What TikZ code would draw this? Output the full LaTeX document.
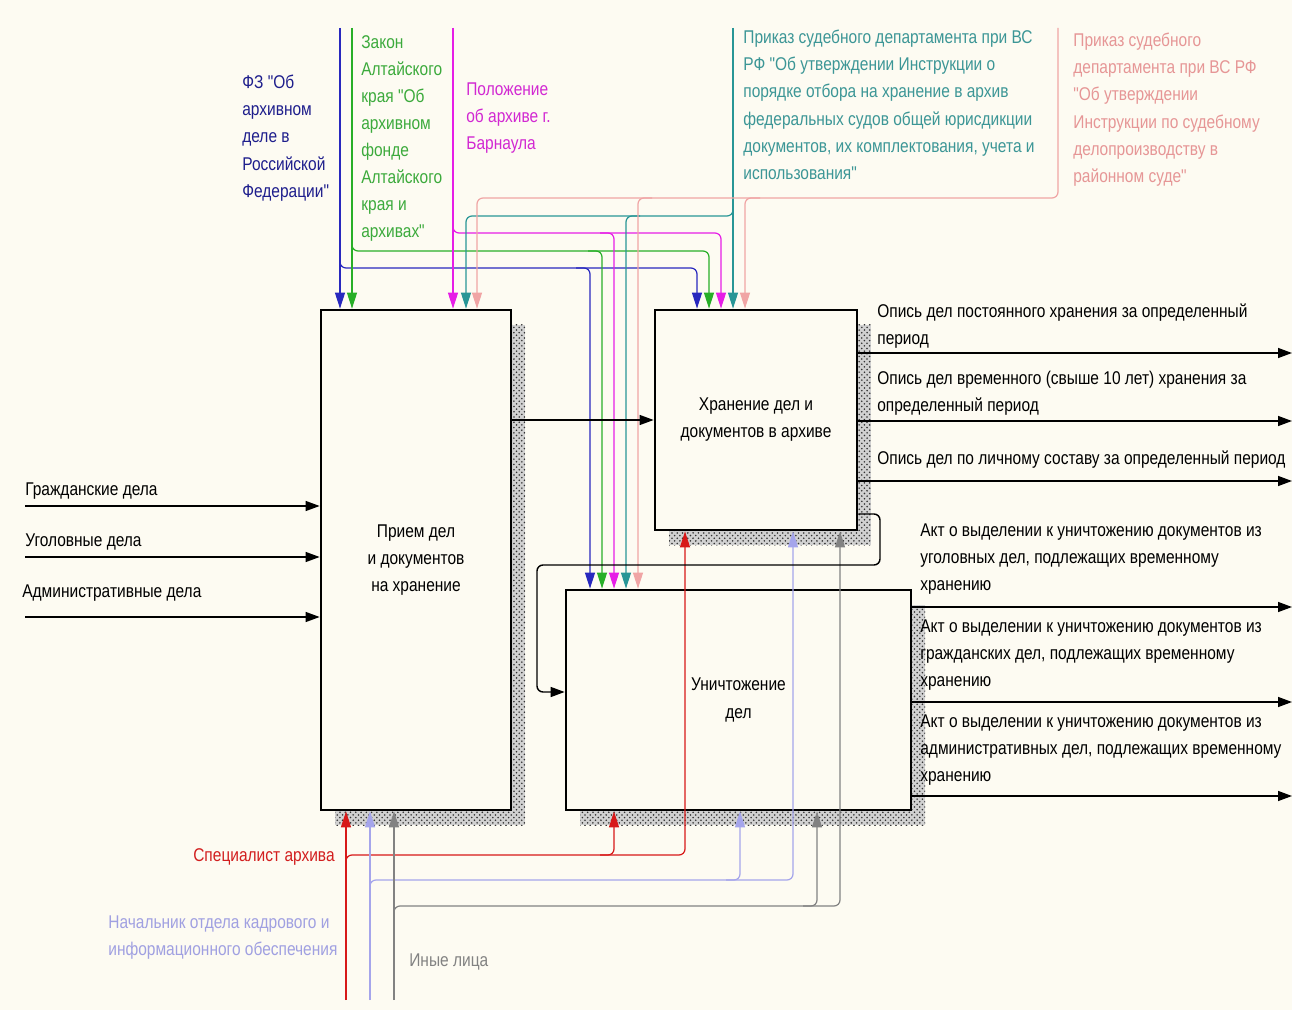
\documentclass[tikz,border=0pt]{standalone}
\usepackage{fontspec}
\newfontfamily\idef{Liberation Sans}[FakeStretch=0.84]
\usetikzlibrary{arrows.meta,patterns}
\definecolor{paper}{RGB}{253,251,242}
\definecolor{cblue}{RGB}{40,40,190}
\definecolor{tblue}{RGB}{30,30,140}
\definecolor{cgreen}{RGB}{40,175,40}
\definecolor{tgreen}{RGB}{60,170,60}
\definecolor{cmag}{RGB}{230,30,230}
\definecolor{tmag}{RGB}{210,40,210}
\definecolor{cteal}{RGB}{40,150,150}
\definecolor{tteal}{RGB}{60,150,150}
\definecolor{cpink}{RGB}{240,165,165}
\definecolor{tpink}{RGB}{230,150,150}
\definecolor{cred}{RGB}{215,25,25}
\definecolor{tred}{RGB}{210,30,30}
\definecolor{clav}{RGB}{165,165,235}
\definecolor{tlav}{RGB}{160,160,225}
\definecolor{cgrey}{RGB}{130,130,130}
\begin{document}
\begin{tikzpicture}[x=0.02cm, y=-0.02cm,
    font=\idef\fontsize{10.5}{15.4}\selectfont,
    fbox/.style={draw, line width=1.6pt, fill=paper, inner sep=0pt, align=center},
    shade/.style={pattern=crosshatch dots, pattern color=black!80},
    lbl/.style={inner sep=0pt, align=left, anchor=north west},
    flow/.style={line width=0.8pt, rounded corners=0.12cm, -{Triangle[length=0.28cm, width=0.2cm]}},
    cin/.style={draw=#1, line width=0.7pt, rounded corners=0.12cm, -{Triangle[length=0.32cm, width=0.2cm, color=#1]}}]
  % sheet and box shadows
  \useasboundingbox (0,0) rectangle (1292,1010);
  \fill[paper] (0,0) rectangle (1292,1010);
  \fill[black!18] (335,325) rectangle (525,825);
  \fill[shade] (335,325) rectangle (525,825);
  \fill[black!18] (669,325) rectangle (871,545);
  \fill[shade] (669,325) rectangle (871,545);
  \fill[black!18] (580,605) rectangle (925,825);
  \fill[shade] (580,605) rectangle (925,825);
  % activity boxes
  \node[fbox, minimum width=3.8cm, minimum height=10cm] (recv) at (416,560) {Прием дел\\и документов\\на хранение};
  \node[fbox, minimum width=4.04cm, minimum height=4.4cm] (store) at (756,420) {Хранение дел и\\документов в архиве};
  \node[fbox, minimum width=6.9cm, minimum height=4.4cm] (destroy) at (738.5,700) {Уничтожение\\дел};
  % free ends
  \coordinate (fzin) at (340,28);
  \coordinate (zakin) at (352,28);
  \coordinate (polin) at (453,28);
  \coordinate (sdin) at (733,28);
  \coordinate (vsin) at (1058,28);
  \coordinate (spin) at (346,1000);
  \coordinate (nachin) at (370,1000);
  \coordinate (inin) at (394,1000);
  \coordinate (grin) at (25,506);
  \coordinate (ugin) at (25,557);
  \coordinate (admin) at (25,617);
  \foreach \n/\y in {o1/353,o2/421,o3/481,o4/607,o5/702,o6/796}
    \coordinate (\n) at (1292,\y);
  % controls
  \draw[cin=cblue] (fzin) -- (fzin |- recv.north);
  \draw[cin=cblue] (340,256) |- (697,268) -- (697,0 |- store.north);
  \draw[cin=cblue] (576,268) -| (590,0 |- destroy.north);
  \draw[cin=cgreen] (zakin) -- (zakin |- recv.north);
  \draw[cin=cgreen] (352,239) |- (709,251) -- (709,0 |- store.north);
  \draw[cin=cgreen] (588,251) -| (602,0 |- destroy.north);
  \draw[cin=cmag] (polin) -- (polin |- recv.north);
  \draw[cin=cmag] (453,221) |- (721,233) -- (721,0 |- store.north);
  \draw[cin=cmag] (600,233) -| (614,0 |- destroy.north);
  \draw[cin=cteal] (sdin) -- (sdin |- store.north);
  \draw[cin=cteal] (733,204) |- (466,216) -- (466,0 |- recv.north);
  \draw[cin=cteal] (640,216) -| (626,0 |- destroy.north);
  \draw[cin=cpink] (vsin) |- (477,198) -- (477,0 |- recv.north);
  \draw[cin=cpink] (760,198) -| (745,0 |- store.north);
  \draw[cin=cpink] (652,198) -| (638,0 |- destroy.north);
  % mechanisms
  \draw[cin=cred] (spin) -- (spin |- recv.south);
  \draw[cin=cred] (346,868) |- (685,855) -- (685,0 |- store.south);
  \draw[cin=cred] (600,855) -| (614,0 |- destroy.south);
  \draw[cin=clav] (nachin) -- (nachin |- recv.south);
  \draw[cin=clav] (370,893) |- (793,880) -- (793,0 |- store.south);
  \draw[cin=clav] (726,880) -| (740,0 |- destroy.south);
  \draw[cin=cgrey] (inin) -- (inin |- recv.south);
  \draw[cin=cgrey] (394,919) |- (840,906) -- (840,0 |- store.south);
  \draw[cin=cgrey] (803,906) -| (817,0 |- destroy.south);
  % inputs, outputs, feedback
  \foreach \n in {grin,ugin,admin}
    \draw[flow] (\n) -- (\n -| recv.west);
  \draw[flow] (recv.east |- store.west) -- (store.west);
  \foreach \n in {o1,o2,o3}
    \draw[flow] (store.east |- \n) -- (\n);
  \foreach \n in {o4,o5,o6}
    \draw[flow] (destroy.east |- \n) -- (\n);
  \draw[flow] (store.east |- 0,514) -| (880,565) -| (537,692) -- (destroy.west |- 0,692);
  % control labels
  \node[lbl, text=tblue] (fzlbl) at (242,75) {ФЗ "Об\\архивном\\деле в\\Российской\\Федерации"};
  \node[lbl, text=tgreen] (zaklbl) at (361,35) {Закон\\Алтайского\\края "Об\\архивном\\фонде\\Алтайского\\края и\\архивах"};
  \node[lbl, text=tmag] (pollbl) at (466,82) {Положение\\об архиве г.\\Барнаула};
  \node[lbl, text=tteal] (sdlbl) at (743,30) {Приказ судебного департамента при ВС\\РФ "Об утверждении Инструкции о\\порядке отбора на хранение в архив\\федеральных судов общей юрисдикции\\документов, их комплектования, учета и\\использования"};
  \node[lbl, text=tpink] (vslbl) at (1073,33) {Приказ судебного\\департамента при ВС РФ\\"Об утверждении\\Инструкции по судебному\\делопроизводству в\\районном суде"};
  % input and output labels
  \node[lbl] (grlbl) at (25,482) {Гражданские дела};
  \node[lbl] (uglbl) at (25,533) {Уголовные дела};
  \node[lbl] (admlbl) at (22,584) {Административные дела};
  \node[lbl] (o1lbl) at (877,303) {Опись дел постоянного хранения за определенный\\период};
  \node[lbl] (o2lbl) at (877,371) {Опись дел временного (свыше 10 лет) хранения за\\определенный период};
  \node[lbl] (o3lbl) at (877,450) {Опись дел по личному составу за определенный период};
  \node[lbl] (o4lbl) at (920,523) {Акт о выделении к уничтожению документов из\\уголовных дел, подлежащих временному\\хранению};
  \node[lbl] (o5lbl) at (920,619) {Акт о выделении к уничтожению документов из\\гражданских дел, подлежащих временному\\хранению};
  \node[lbl] (o6lbl) at (920,714) {Акт о выделении к уничтожению документов из\\административных дел, подлежащих временному\\хранению};
  % mechanism labels
  \node[inner sep=0pt, anchor=east, text=tred] (splbl) at (335,857) {Специалист архива};
  \node[lbl, text=tlav] (nachlbl) at (108,915) {Начальник отдела кадрового и\\информационного обеспечения};
  \node[lbl, text=cgrey] (inlbl) at (409,953) {Иные лица};
\end{tikzpicture}
\end{document}
